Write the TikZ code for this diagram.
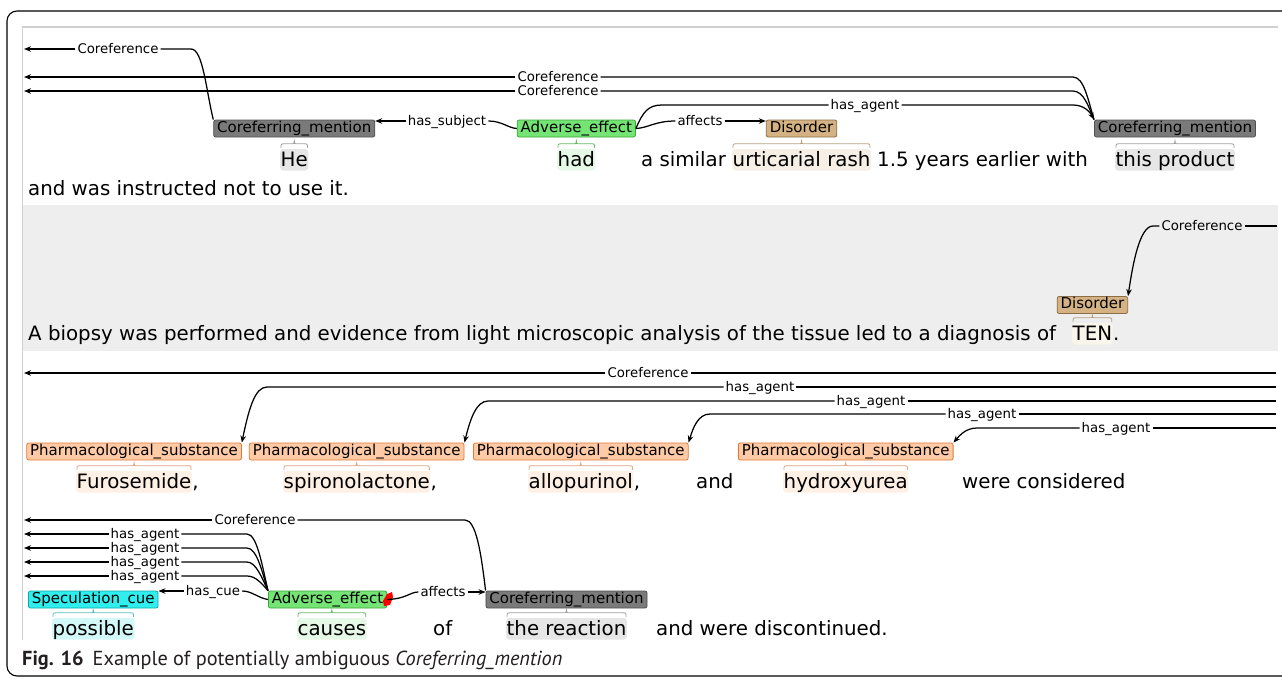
\documentclass[tikz,border=0pt]{standalone}
\usepackage{fontspec}
\setmainfont{DejaVu Sans}
\newfontfamily\capfam{PT Sans}
\usetikzlibrary{arrows.meta,calc}
\newcommand\wordfont{\fontsize{19.8}{24}\selectfont}
\newcommand\boxfont{\fontsize{15}{18}\selectfont}
\newcommand\lblfont{\fontsize{13.3}{16}\selectfont}
\definecolor{cmfill}{HTML}{7A7A7A}
\definecolor{cmdraw}{HTML}{505050}
\definecolor{cmlight}{HTML}{E6E6E6}
\definecolor{cmbrace}{HTML}{A0A0A0}
\definecolor{aefill}{HTML}{74E474}
\definecolor{aedraw}{HTML}{3AA83A}
\definecolor{aelight}{HTML}{E6F8E6}
\definecolor{aebrace}{HTML}{66BB66}
\definecolor{disfill}{HTML}{D4B283}
\definecolor{disdraw}{HTML}{8C6E45}
\definecolor{dislight}{HTML}{F5EFE6}
\definecolor{tenlight}{HTML}{FAF5EA}
\definecolor{disbrace}{HTML}{B8A282}
\definecolor{phfill}{HTML}{FFCBA6}
\definecolor{phdraw}{HTML}{E07A36}
\definecolor{phlight}{HTML}{FFF0E6}
\definecolor{phbrace}{HTML}{E0A47E}
\definecolor{spfill}{HTML}{30EEEE}
\definecolor{spdraw}{HTML}{10A8A8}
\definecolor{splight}{HTML}{D2F8F8}
\definecolor{spbrace}{HTML}{60C0C0}
\definecolor{bandgray}{HTML}{EEEEEE}
\definecolor{framegray}{HTML}{D0D0D0}
\definecolor{captext}{HTML}{231F20}
\tikzset{
  rel/.style={line width=1.25pt, black},
  relarr/.style={rel, -{Stealth[length=7pt,width=5.5pt]}},
  rlbl/.style={font=\lblfont, inner xsep=2pt, inner ysep=0pt, text height=9.5pt, text depth=0pt},
  ebox/.style={font=\boxfont, draw, rounded corners=2pt, inner xsep=3.5pt, inner ysep=1.25pt, text height=11pt, text depth=3.5pt, line width=0.8pt},
  cmbox/.style={ebox, fill=cmfill, draw=cmdraw},
  aebox/.style={ebox, fill=aefill, draw=aedraw},
  disbox/.style={ebox, fill=disfill, draw=disdraw},
  phbox/.style={ebox, fill=phfill, draw=phdraw},
  spbox/.style={ebox, fill=spfill, draw=spdraw},
  hl/.style={font=\wordfont, rounded corners=3pt, inner xsep=0.5pt, inner ysep=0.5pt, text height=16.5pt, text depth=4pt, anchor=base west},
  wtxt/.style={font=\wordfont, inner sep=0pt, anchor=base west},
}
\newcommand\spanbrace[2]{\draw[#2, line width=0.8pt] let \p1=(#1.north west), \p2=(#1.north east) in
  (\x1+1pt,\y1+1pt) .. controls (\x1+1pt,\y1+5pt) .. (\x1+5pt,\y1+5pt)
  -- ({(\x1+\x2)/2-4pt},\y1+5pt) .. controls ({(\x1+\x2)/2},\y1+5pt) .. ({(\x1+\x2)/2},\y1+8pt)
  .. controls ({(\x1+\x2)/2},\y1+5pt) .. ({(\x1+\x2)/2+4pt},\y1+5pt)
  -- (\x2-5pt,\y1+5pt) .. controls (\x2-1pt,\y1+5pt) .. (\x2-1pt,\y1+1pt);}
\begin{document}
\begin{tikzpicture}[x=1pt,y=-1pt]
\useasboundingbox (0,0) rectangle (1282,678);
\clip (0,0) rectangle (1282,678);
\fill[white] (0,0) rectangle (1282,678);
% frame
\draw[black, line width=1.1pt, rounded corners=10pt] (7,11) rectangle (1310,676);
\fill[bandgray] (23,205) rectangle (1278,351);
\draw[framegray, line width=1.2pt] (22,27) -- (1278,27);
\draw[framegray, line width=0.8pt] (22,27) -- (22,640);

% ---------- sentence 1 ----------
\node[hl, fill=cmlight] (he) at (280,166) {He};
\node[hl, fill=aelight] (had) at (557,166) {had};
\node[wtxt] (asim) at (641,166) {a similar};
\node[hl, fill=dislight] (urt) at (732,166) {urticarial rash};
\node[wtxt] (yrs) at (877,166) {1.5 years earlier with};
\node[hl, fill=cmlight] (prod) at (1115,166) {this product};
\node[wtxt] (cont) at (28,195) {and was instructed not to use it.};

\node[cmbox] (cm1) at (he |- 0,128.5) {Coreferring\_mention};
\node[aebox] (ae1) at (had |- 0,128.5) {Adverse\_effect};
\node[disbox] (dis1) at (urt |- 0,128.5) {Disorder};
\node[cmbox] (cm2) at (prod |- 0,128.5) {Coreferring\_mention};
\spanbrace{he}{cmbrace}
\spanbrace{had}{aebrace}
\spanbrace{urt}{disbrace}
\spanbrace{prod}{cmbrace}

\node[rlbl] (lco1) at (118,49) {Coreference};
\node[rlbl] (lco1b) at (558,77) {Coreference};
\node[rlbl] (lco1c) at (558,91) {Coreference};
\node[rlbl] (lag1) at (865,105) {has\_agent};
\node[rlbl] (lsub) at (447,121) {has\_subject};
\node[rlbl] (laff1) at (700,121) {affects};
\coordinate (L1a) at (24,49);
\coordinate (L1b) at (24,77);
\coordinate (L1c) at (24,91);

\draw[rel] (cm1.north west) .. controls (206,90) and (203,49) .. (191,49) -- (lco1.east);
\draw[relarr] (lco1.west) -- (L1a);
\draw[rel] (cm2.north west) .. controls (1088,100) and (1084,77) .. (1073,77) -- (lco1b.east);
\draw[relarr] (lco1b.west) -- (L1b);
\draw[rel] (cm2.north west) .. controls (1089,108) and (1084,91) .. (1073,91) -- (lco1c.east);
\draw[relarr] (lco1c.west) -- (L1c);
\draw[rel] (ae1.east) .. controls (643,112) and (648,105) .. (662,105) -- (lag1.west);
\draw[relarr] (lag1.east) -- (1073,105) .. controls (1084,105) and (1090,112) .. (cm2.north west);
\draw[rel] (ae1.west) .. controls (508,128) and (502,121) .. (lsub.east);
\draw[relarr] (lsub.west) -- (lsub.west -| cm1.east);
\draw[rel] (ae1.east) .. controls (648,128) and (655,121) .. (laff1.west);
\draw[relarr] (laff1.east) -- (laff1.east -| dis1.west);

% ---------- sentence 2 ----------
\node[wtxt] (biopsy) at (28,340) {A biopsy was performed and evidence from light microscopic analysis of the tissue led to a diagnosis of};
\node[hl, fill=tenlight] (ten) at (1072,340) {TEN};
\node[wtxt] (tendot) at (ten.base east) {.};
\node[disbox] (dis2) at (ten |- 0,305) {Disorder};
\spanbrace{ten}{disbrace}
\node[rlbl] (lco2) at (1202,226) {Coreference};
\coordinate (R2) at (1277,226);
\draw[rel] (R2) -- (lco2.east);
\draw[relarr] (lco2.west) -- (1153,226) .. controls (1140,226) and (1133,262) .. (dis2.north east);

% ---------- sentence 3 ----------
\node[hl, fill=phlight] (furo) at (76,488) {Furosemide};
\node[wtxt] (furoc) at (furo.base east) {,};
\node[hl, fill=phlight] (spiro) at (283,488) {spironolactone};
\node[wtxt] (spiroc) at (spiro.base east) {,};
\node[hl, fill=phlight] (allo) at (528,488) {allopurinol};
\node[wtxt] (alloc) at (allo.base east) {,};
\node[wtxt] (and3) at (696,488) {and};
\node[hl, fill=phlight] (hydro) at (783,488) {hydroxyurea};
\node[wtxt] (were) at (962,488) {were considered};

\node[phbox] (p1) at (furo |- 0,451.5) {Pharmacological\_substance};
\node[phbox] (p2) at (spiro |- 0,451.5) {Pharmacological\_substance};
\node[phbox] (p3) at (allo |- 0,451.5) {Pharmacological\_substance};
\node[phbox] (p4) at (hydro |- 0,451.5) {Pharmacological\_substance};
\spanbrace{furo}{phbrace}
\spanbrace{spiro}{phbrace}
\spanbrace{allo}{phbrace}
\spanbrace{hydro}{phbrace}

\node[rlbl] (lco3) at (648,373) {Coreference};
\node[rlbl] (lag3a) at (760,387) {has\_agent};
\node[rlbl] (lag3b) at (871,401) {has\_agent};
\node[rlbl] (lag3c) at (982,414) {has\_agent};
\node[rlbl] (lag3d) at (1116,428) {has\_agent};
\coordinate (L3) at (24,373);
\coordinate (R3) at (1276,373);
\coordinate (R3a) at (1276,387);
\coordinate (R3b) at (1276,401);
\coordinate (R3c) at (1276,414);
\coordinate (R3d) at (1276,428);
\draw[rel] (R3) -- (lco3.east);
\draw[relarr] (lco3.west) -- (L3);
\draw[rel] (R3a) -- (lag3a.east);
\draw[relarr] (lag3a.west) -- (267,387) .. controls (255,387) and (249,408) .. (p1.north east);
\draw[rel] (R3b) -- (lag3b.east);
\draw[relarr] (lag3b.west) -- (488,401) .. controls (476,401) and (470,420) .. (p2.north east);
\draw[rel] (R3c) -- (lag3c.east);
\draw[relarr] (lag3c.west) -- (710,414) .. controls (698,414) and (693,428) .. (p3.north east);
\draw[rel] (R3d) -- (lag3d.east);
\draw[relarr] (lag3d.west) -- (977,428) .. controls (966,428) and (960,435) .. (p4.north east);

% ---------- sentence 4 ----------
\node[hl, fill=splight] (poss) at (52,635) {possible};
\node[hl, fill=aelight] (causes) at (297,635) {causes};
\node[wtxt] (of4) at (433,635) {of};
\node[hl, fill=cmlight] (react) at (506,635) {the reaction};
\node[wtxt] (disc) at (656,635) {and were discontinued.};

\node[spbox] (spec) at (poss |- 0,599.5) {Speculation\_cue};
\node[aebox, anchor=west] (ae2) at (268,599.5) {Adverse\_effect\hspace{11pt}};
\node[cmbox] (cm3) at (react |- 0,599.5) {Coreferring\_mention};
\fill[red] (383,601) -- (387,594) -- (392,592) -- (393,597) -- (390,605) -- (384,606) -- cycle;
\spanbrace{poss}{spbrace}
\spanbrace{causes}{aebrace}
\spanbrace{react}{cmbrace}

\node[rlbl] (lco4) at (255,520) {Coreference};
\node[rlbl] (lag4a) at (145,534) {has\_agent};
\node[rlbl] (lag4b) at (145,548) {has\_agent};
\node[rlbl] (lag4c) at (145,562) {has\_agent};
\node[rlbl] (lag4d) at (145,576) {has\_agent};
\node[rlbl] (lcue) at (213,591) {has\_cue};
\node[rlbl] (laff4) at (443,592) {affects};
\coordinate (L4) at (24,520);
\coordinate (L4a) at (24,534);
\coordinate (L4b) at (24,548);
\coordinate (L4c) at (24,562);
\coordinate (L4d) at (24,576);

\draw[rel] (cm3.north west) .. controls (481,552) and (476,520) .. (465,520) -- (lco4.east);
\draw[relarr] (lco4.west) -- (L4);
\draw[rel] (ae2.north west) .. controls (262,565) and (257,534) .. (247,534) -- (lag4a.east);
\draw[relarr] (lag4a.west) -- (L4a);
\draw[rel] (ae2.north west) .. controls (262,572) and (257,548) .. (247,548) -- (lag4b.east);
\draw[relarr] (lag4b.west) -- (L4b);
\draw[rel] (ae2.north west) .. controls (262,578) and (256,562) .. (247,562) -- (lag4c.east);
\draw[relarr] (lag4c.west) -- (L4c);
\draw[rel] (ae2.north west) .. controls (262,584) and (256,576) .. (247,576) -- (lag4d.east);
\draw[relarr] (lag4d.west) -- (L4d);
\draw[rel] (ae2.west) .. controls (258,598) and (252,591) .. (lcue.east);
\draw[relarr] (lcue.west) -- (lcue.west -| spec.east);
\draw[rel] (ae2.east) .. controls (406,599) and (410,592) .. (laff4.west);
\draw[relarr] (laff4.east) -- (laff4.east -| cm3.west);

% ---------- caption ----------
\node[anchor=base west, inner sep=0pt, text=captext, font=\capfam\fontsize{20.3}{24}\selectfont] (cap) at (22,665)
  {\textbf{Fig. 16}\hspace{9pt}Example of potentially ambiguous \textit{Coreferring\_mention}};
\end{tikzpicture}
\end{document}
